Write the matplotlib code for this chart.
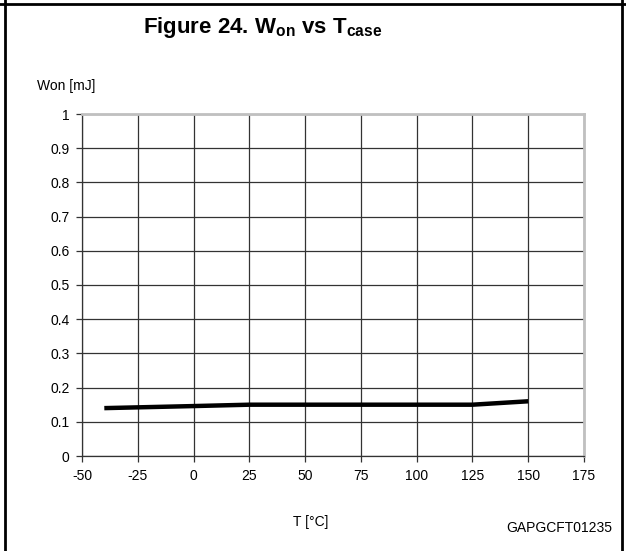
import matplotlib
matplotlib.use("Agg")
import matplotlib.pyplot as plt
from matplotlib.lines import Line2D

plt.rcParams['font.family'] = ['Liberation Sans', 'DejaVu Sans']
plt.rcParams['mathtext.fontset'] = 'custom'
plt.rcParams['mathtext.rm'] = 'Liberation Sans'
plt.rcParams['mathtext.bf'] = 'Liberation Sans:bold'
plt.rcParams['axes.unicode_minus'] = False

# curve data
temp = [-40, 0, 25, 125, 150]
won = [0.14, 0.146, 0.15, 0.15, 0.16]

xticks = [-50, -25, 0, 25, 50, 75, 100, 125, 150, 175]
yticks = [0, 0.1, 0.2, 0.3, 0.4, 0.5, 0.6, 0.7, 0.8, 0.9, 1]
ylabels = ['0', '0.1', '0.2', '0.3', '0.4', '0.5', '0.6', '0.7', '0.8', '0.9', '1']

fig = plt.figure(figsize=(6.26, 5.51), dpi=100)
ax = fig.add_axes([82 / 626, 1 - 456 / 551, 502 / 626, 342 / 551])

ax.plot(temp, won, color='black', lw=3.2, solid_capstyle='butt', zorder=3)

ax.set_xlim(-50, 175)
ax.set_ylim(0, 1)
ax.set_xticks(xticks)
ax.set_yticks(yticks)
ax.set_yticklabels(ylabels)
ax.grid(True, color='#333333', lw=0.9)
ax.tick_params(direction='out', length=4, width=0.9, color='#333333',
               labelsize=10, pad=5)
for s in ['left', 'bottom']:
    ax.spines[s].set_color('#333333')
    ax.spines[s].set_linewidth(0.9)
for s in ['top', 'right']:
    ax.spines[s].set_color('#c0c0c0')
    ax.spines[s].set_linewidth(2)

# texts
fig.text(263 / 626, 1 - 27 / 551, r'Figure 24. W$_{\mathbf{on}}$ vs T$_{\mathbf{case}}$',
         ha='center', va='center', fontsize=16, fontweight='bold')
fig.text(37 / 626, 1 - 86 / 551, 'Won [mJ]', ha='left', va='center', fontsize=10)
fig.text(311 / 626, 1 - 522 / 551, 'T [°C]', ha='center', va='center', fontsize=10)
fig.text(612 / 626, 1 - 528 / 551, 'GAPGCFT01235', ha='right', va='center', fontsize=10)

# frame around the figure
fig.add_artist(Line2D([5 / 626, 5 / 626], [0, 1], color='black', lw=2,
                      transform=fig.transFigure))
fig.add_artist(Line2D([622 / 626, 622 / 626], [0, 1], color='black', lw=2,
                      transform=fig.transFigure))
fig.add_artist(Line2D([0, 1], [1 - 4 / 551, 1 - 4 / 551], color='black', lw=2,
                      transform=fig.transFigure))

fig.savefig('out.png', dpi=100)
